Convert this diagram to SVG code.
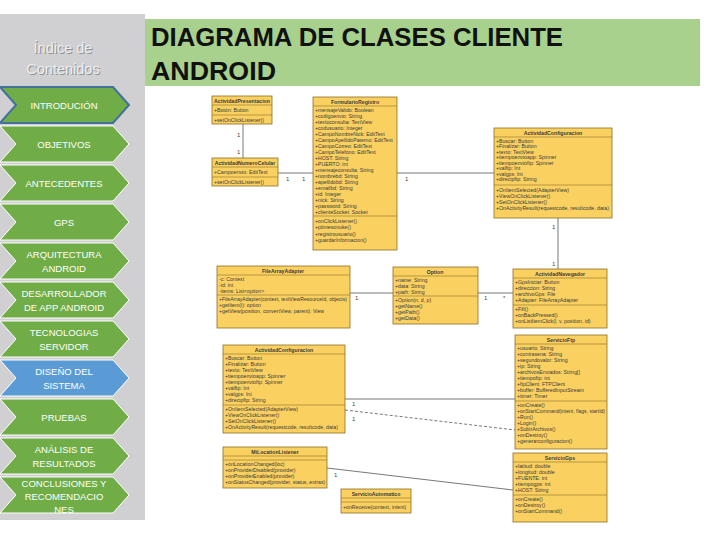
<svg xmlns="http://www.w3.org/2000/svg" width="720" height="540" viewBox="0 0 720 540">
<style>
.ch{fill:#70ad47;stroke:#ffffff;stroke-width:1}
.ct{font-family:'Liberation Sans',Arial,sans-serif;font-size:9.5px;fill:#ffffff;text-anchor:middle}
.box{fill:#fad161;stroke:#8d6e26;stroke-width:0.8}
.sep{stroke:#8d6e26;stroke-width:0.6}
.t{font-family:'Liberation Sans',Arial,sans-serif;font-size:5.2px;fill:#3a3a3a}
.h{font-weight:bold;text-anchor:middle}
.cn{stroke:#555555;stroke-width:0.8;fill:none}
.lbl{font-family:'Liberation Sans',Arial,sans-serif;font-size:6px;fill:#444}
</style>
<defs>
<path id="chev" d="M0,0 H113 L129,18 L113,36 H0 L16,18 Z"/>
</defs>
<rect width="720" height="540" fill="#ffffff"/>
<g id="sidebar">
<rect x="0" y="14" width="145" height="506" fill="#d0cfd1"/>
<text x="64" y="54" font-family="'Liberation Sans',Arial,sans-serif" font-size="14.5" fill="#8f8f8f" text-anchor="middle">Índice  de</text>
<text x="63" y="53" font-family="'Liberation Sans',Arial,sans-serif" font-size="14.5" fill="#eeeeee" text-anchor="middle">Índice  de</text>
<text x="64" y="75" font-family="'Liberation Sans',Arial,sans-serif" font-size="14.5" fill="#8f8f8f" text-anchor="middle">Contenidos</text>
<text x="63" y="74" font-family="'Liberation Sans',Arial,sans-serif" font-size="14.5" fill="#eeeeee" text-anchor="middle">Contenidos</text>
</g>
<g id="nav-introduccion"><use href="#chev" x="0" y="87" fill="#70ad47" stroke="#41719c" stroke-width="2"/><text class="ct" x="64" y="108.5">INTRODUCIÓN</text></g>
<g id="nav-objetivos"><use href="#chev" x="0" y="126" class="ch"/><text class="ct" x="64" y="147.5">OBJETIVOS</text></g>
<g id="nav-antecedentes"><use href="#chev" x="0" y="165" class="ch"/><text class="ct" x="64" y="186.5">ANTECEDENTES</text></g>
<g id="nav-gps"><use href="#chev" x="0" y="204" class="ch"/><text class="ct" x="64" y="225.5">GPS</text></g>
<g id="nav-arquitectura"><use href="#chev" x="0" y="243" class="ch"/><text class="ct" x="64" y="257.5">ARQUITECTURA</text><text class="ct" x="64" y="271.5">ANDROID</text></g>
<g id="nav-desarrollador"><use href="#chev" x="0" y="282" class="ch"/><text class="ct" x="64" y="296.5">DESARROLLADOR</text><text class="ct" x="64" y="310.5">DE APP ANDROID</text></g>
<g id="nav-tecnologias"><use href="#chev" x="0" y="321" class="ch"/><text class="ct" x="64" y="335.5">TECNOLOGIAS</text><text class="ct" x="64" y="349.5">SERVIDOR</text></g>
<g id="nav-diseno"><use href="#chev" x="0" y="360" fill="#5b9bd5" stroke="#ffffff" stroke-width="1"/><text class="ct" x="64" y="374.5">DISEÑO DEL</text><text class="ct" x="64" y="388.5">SISTEMA</text></g>
<g id="nav-pruebas"><use href="#chev" x="0" y="399" class="ch"/><text class="ct" x="64" y="420.5">PRUEBAS</text></g>
<g id="nav-analisis"><use href="#chev" x="0" y="438" class="ch"/><text class="ct" x="64" y="452.5">ANÁLISIS DE</text><text class="ct" x="64" y="466.5">RESULTADOS</text></g>
<g id="nav-conclusiones"><use href="#chev" x="0" y="477" class="ch"/><text class="ct" x="64" y="487">CONCLUSIONES Y</text><text class="ct" x="64" y="500">RECOMENDACIO</text><text class="ct" x="64" y="513">NES</text></g>
<g id="title">
<rect x="145" y="19" width="555" height="67" fill="#a9d18e"/>
<text x="151" y="46" font-family="'Liberation Sans',Arial,sans-serif" font-size="26" font-weight="bold" fill="#111" textLength="412" lengthAdjust="spacingAndGlyphs">DIAGRAMA DE CLASES CLIENTE</text>
<text x="151" y="80" font-family="'Liberation Sans',Arial,sans-serif" font-size="26" font-weight="bold" fill="#111" textLength="125" lengthAdjust="spacingAndGlyphs">ANDROID</text>
</g>
<g id="connectors">
<line class="cn" x1="243" y1="124" x2="243" y2="158"/>
<text class="lbl" x="237" y="137">1</text><text class="lbl" x="237" y="154">1</text>
<line class="cn" x1="278" y1="173" x2="313" y2="173"/>
<text class="lbl" x="286" y="181">1</text><text class="lbl" x="302" y="181">1</text>
<line class="cn" x1="397" y1="173" x2="494" y2="173"/>
<text class="lbl" x="405" y="181">1</text>
<line class="cn" x1="558" y1="218" x2="558" y2="269"/>
<text class="lbl" x="552" y="229">1</text><text class="lbl" x="552" y="266">1</text>
<line class="cn" x1="350" y1="293" x2="393" y2="293"/>
<text class="lbl" x="355" y="300">1</text>
<line class="cn" x1="478" y1="293" x2="513" y2="293"/>
<text class="lbl" x="484" y="300">1</text><text class="lbl" x="503" y="300">*</text>
<line class="cn" x1="345" y1="399" x2="515" y2="399"/>
<text class="lbl" x="352" y="406">1</text>
<line class="cn" x1="345" y1="410" x2="515" y2="430" stroke-dasharray="3,2"/>
<text class="lbl" x="352" y="421">1</text>
<line class="cn" x1="327" y1="468" x2="513" y2="490"/>
<text class="lbl" x="334" y="477">1</text>
</g>
<g id="ActividadPresentacion">
<rect class="box" x="212" y="96" width="60" height="28"/>
<line class="sep" x1="212" y1="105" x2="272" y2="105"/><line class="sep" x1="212" y1="115" x2="272" y2="115"/>
<text class="t h" x="242" y="102.5">ActividadPresentacion</text>
<text class="t" x="214" y="111.5">+Botón: Button</text>
<text class="t" x="214" y="121.5">+setOnClickListener()</text>
</g>
<g id="ActividadNumeroCelular">
<rect class="box" x="212" y="158" width="66" height="28"/>
<line class="sep" x1="212" y1="167" x2="278" y2="167"/><line class="sep" x1="212" y1="177" x2="278" y2="177"/>
<text class="t h" x="245" y="164.5">ActividadNumeroCelular</text>
<text class="t" x="214" y="173.5">+Campoenvio: EditText</text>
<text class="t" x="214" y="183.5">+setOnClickListener()</text>
</g>
<g id="FormularioRegistro">
<rect class="box" x="313" y="97" width="84" height="153"/>
<line class="sep" x1="313" y1="106" x2="397" y2="106"/><line class="sep" x1="313" y1="216" x2="397" y2="216"/>
<text class="t h" x="355" y="103.5">FormularioRegistro</text>
<text class="t" x="315" y="111.5">+mensajeValido: Boolean</text>
<text class="t" x="315" y="117.5">+codigoenvio: String</text>
<text class="t" x="315" y="123.5">+textoconsulta: TextView</text>
<text class="t" x="315" y="129.5">+codusuario: Integer</text>
<text class="t" x="315" y="135.5">+CampoNombreNick: EditText</text>
<text class="t" x="315" y="141.5">+CampoApellidoPaterno: EditText</text>
<text class="t" x="315" y="147.5">+CampoCorreo: EditText</text>
<text class="t" x="315" y="153.5">+CampoTelefono: EditText</text>
<text class="t" x="315" y="159.5">+HOST: String</text>
<text class="t" x="315" y="165.5">+PUERTO: int</text>
<text class="t" x="315" y="171.5">+mensajeconsulta: String</text>
<text class="t" x="315" y="177.5">+nombrebd: String</text>
<text class="t" x="315" y="183.5">+apellidobd: String</text>
<text class="t" x="315" y="189.5">+emailbd: String</text>
<text class="t" x="315" y="195.5">+id: Integer</text>
<text class="t" x="315" y="201.5">+nick: String</text>
<text class="t" x="315" y="207.5">+password: String</text>
<text class="t" x="315" y="213.5">+clienteSocket: Socket</text>
<text class="t" x="315" y="222.5">+onClickListener()</text>
<text class="t" x="315" y="229">+ptimesonuke()</text>
<text class="t" x="315" y="235.5">+registrousuario()</text>
<text class="t" x="315" y="242">+guardarInformacion()</text>
</g>
<g id="ActividadConfiguracion1">
<rect class="box" x="494" y="128" width="118" height="90"/>
<line class="sep" x1="494" y1="137" x2="612" y2="137"/><line class="sep" x1="494" y1="185" x2="612" y2="185"/>
<text class="t h" x="553" y="134.5">ActividadConfiguracion</text>
<text class="t" x="496" y="142.5">+Buscar: Button</text>
<text class="t" x="496" y="148">+Finalizar: Button</text>
<text class="t" x="496" y="153.5">+texto: TextView</text>
<text class="t" x="496" y="159">+tiempoenvioapp: Spinner</text>
<text class="t" x="496" y="164.5">+tiempoenvioftp: Spinner</text>
<text class="t" x="496" y="170">+valftp: Int</text>
<text class="t" x="496" y="175.5">+valgps: Int</text>
<text class="t" x="496" y="181">+direcipftp: String</text>
<text class="t" x="496" y="191.5">+OnItemSelected(AdapterView)</text>
<text class="t" x="496" y="197.5">+ViewOnClickListener()</text>
<text class="t" x="496" y="203.5">+SetOnClickListener()</text>
<text class="t" x="496" y="209.5">+OnActivityResult(requestcode, resultcode, data)</text>
</g>
<g id="FileArrayAdapter">
<rect class="box" x="217" y="266" width="133" height="62"/>
<line class="sep" x1="217" y1="275" x2="350" y2="275"/><line class="sep" x1="217" y1="295" x2="350" y2="295"/>
<text class="t h" x="283" y="272.5">FileArrayAdapter</text>
<text class="t" x="219" y="280.5">-c: Context</text>
<text class="t" x="219" y="286.5">-id: int</text>
<text class="t" x="219" y="292.5">-items: List&lt;option&gt;</text>
<text class="t" x="219" y="301" textLength="128" lengthAdjust="spacingAndGlyphs">+FileArrayAdapter(context, textViewResourceId, objects)</text>
<text class="t" x="219" y="307">+getItem(i): option</text>
<text class="t" x="219" y="313">+getView(position, convertView, parent): View</text>
</g>
<g id="Opcion">
<rect class="box" x="393" y="267" width="85" height="57"/>
<line class="sep" x1="393" y1="276" x2="478" y2="276"/><line class="sep" x1="393" y1="296" x2="478" y2="296"/>
<text class="t h" x="435" y="273.5">Option</text>
<text class="t" x="395" y="281.5">+name: String</text>
<text class="t" x="395" y="287.5">+data: String</text>
<text class="t" x="395" y="293.5">+path: String</text>
<text class="t" x="395" y="302">+Option(n, d, p)</text>
<text class="t" x="395" y="308">+getName()</text>
<text class="t" x="395" y="314">+getPath()</text>
<text class="t" x="395" y="320">+getData()</text>
</g>
<g id="ActividadNavegador">
<rect class="box" x="513" y="269" width="94" height="59"/>
<line class="sep" x1="513" y1="278" x2="607" y2="278"/><line class="sep" x1="513" y1="305" x2="607" y2="305"/>
<text class="t h" x="560" y="275.5">ActividadNavegador</text>
<text class="t" x="515" y="284">+GpsIniciar: Button</text>
<text class="t" x="515" y="290">+direccion: String</text>
<text class="t" x="515" y="296">+archivoGps: File</text>
<text class="t" x="515" y="302">+Adapter: FileArrayAdapter</text>
<text class="t" x="515" y="311">+Fill()</text>
<text class="t" x="515" y="317">+onBackPressed()</text>
<text class="t" x="515" y="323">+onListItemClick(l, v, position, id)</text>
</g>
<g id="ActividadConfiguracion2">
<rect class="box" x="223" y="345" width="122" height="88"/>
<line class="sep" x1="223" y1="354" x2="345" y2="354"/><line class="sep" x1="223" y1="405" x2="345" y2="405"/>
<text class="t h" x="284" y="351.5">ActividadConfiguracion</text>
<text class="t" x="225" y="360">+Buscar: Button</text>
<text class="t" x="225" y="366">+Finalizar: Button</text>
<text class="t" x="225" y="372">+texto: TextView</text>
<text class="t" x="225" y="378">+tiempoenvioapp: Spinner</text>
<text class="t" x="225" y="384">+tiempoenvioftp: Spinner</text>
<text class="t" x="225" y="390">+valftp: Int</text>
<text class="t" x="225" y="396">+valgps: Int</text>
<text class="t" x="225" y="402">+direcipftp: String</text>
<text class="t" x="225" y="411">+OnItemSelected(AdapterView)</text>
<text class="t" x="225" y="417">+ViewOnClickListener()</text>
<text class="t" x="225" y="423">+SetOnClickListener()</text>
<text class="t" x="225" y="429">+OnActivityResult(requestcode, resultcode, data)</text>
</g>
<g id="ServicioFtp">
<rect class="box" x="515" y="335" width="92" height="114"/>
<line class="sep" x1="515" y1="344" x2="607" y2="344"/><line class="sep" x1="515" y1="401" x2="607" y2="401"/>
<text class="t h" x="561" y="341.5">ServicioFtp</text>
<text class="t" x="517" y="350">+usuario: String</text>
<text class="t" x="517" y="356">+contrasena: String</text>
<text class="t" x="517" y="362">+segundovalor: String</text>
<text class="t" x="517" y="368">+ip: String</text>
<text class="t" x="517" y="374">+archivosEnviados: String[]</text>
<text class="t" x="517" y="380">+tiempoftp: int</text>
<text class="t" x="517" y="386">+ftpClient: FTPClient</text>
<text class="t" x="517" y="392">+buffer: BufferedInputStream</text>
<text class="t" x="517" y="398">+timer: Timer</text>
<text class="t" x="517" y="407">+onCreate()</text>
<text class="t" x="517" y="413" textLength="88" lengthAdjust="spacingAndGlyphs">+onStartCommand(intent, flags, startId)</text>
<text class="t" x="517" y="419">+Run()</text>
<text class="t" x="517" y="425">+Login()</text>
<text class="t" x="517" y="431">+SubirArchivos()</text>
<text class="t" x="517" y="437">+onDestroy()</text>
<text class="t" x="517" y="443">+generarconfiguracion()</text>
</g>
<g id="ServicioGps">
<rect class="box" x="513" y="453" width="94" height="69"/>
<line class="sep" x1="513" y1="462" x2="607" y2="462"/><line class="sep" x1="513" y1="495" x2="607" y2="495"/>
<text class="t h" x="560" y="459.5">ServicioGps</text>
<text class="t" x="515" y="468">+latitud: double</text>
<text class="t" x="515" y="474">+longitud: double</text>
<text class="t" x="515" y="480">+FUENTE: int</text>
<text class="t" x="515" y="486">+tiempogps: int</text>
<text class="t" x="515" y="492">+HOST: String</text>
<text class="t" x="515" y="501">+onCreate()</text>
<text class="t" x="515" y="507">+onDestroy()</text>
<text class="t" x="515" y="513">+onStartCommand()</text>
</g>
<g id="MiLocationListener">
<rect class="box" x="223" y="447" width="104" height="41"/>
<line class="sep" x1="223" y1="456" x2="327" y2="456"/><line class="sep" x1="223" y1="460" x2="327" y2="460"/>
<text class="t h" x="275" y="453.5">MiLocationListener</text>
<text class="t" x="225" y="466">+onLocationChanged(loc)</text>
<text class="t" x="225" y="472">+onProviderDisabled(provider)</text>
<text class="t" x="225" y="478">+onProviderEnabled(provider)</text>
<text class="t" x="225" y="484">+onStatusChanged(provider, status, extras)</text>
</g>
<g id="ServicioAutomatico">
<rect class="box" x="341" y="489" width="70" height="24"/>
<line class="sep" x1="341" y1="498" x2="411" y2="498"/><line class="sep" x1="341" y1="502" x2="411" y2="502"/>
<text class="t h" x="376" y="495.5">ServicioAutomatico</text>
<text class="t" x="343" y="509">+onReceive(context, intent)</text>
</g>
</svg>
